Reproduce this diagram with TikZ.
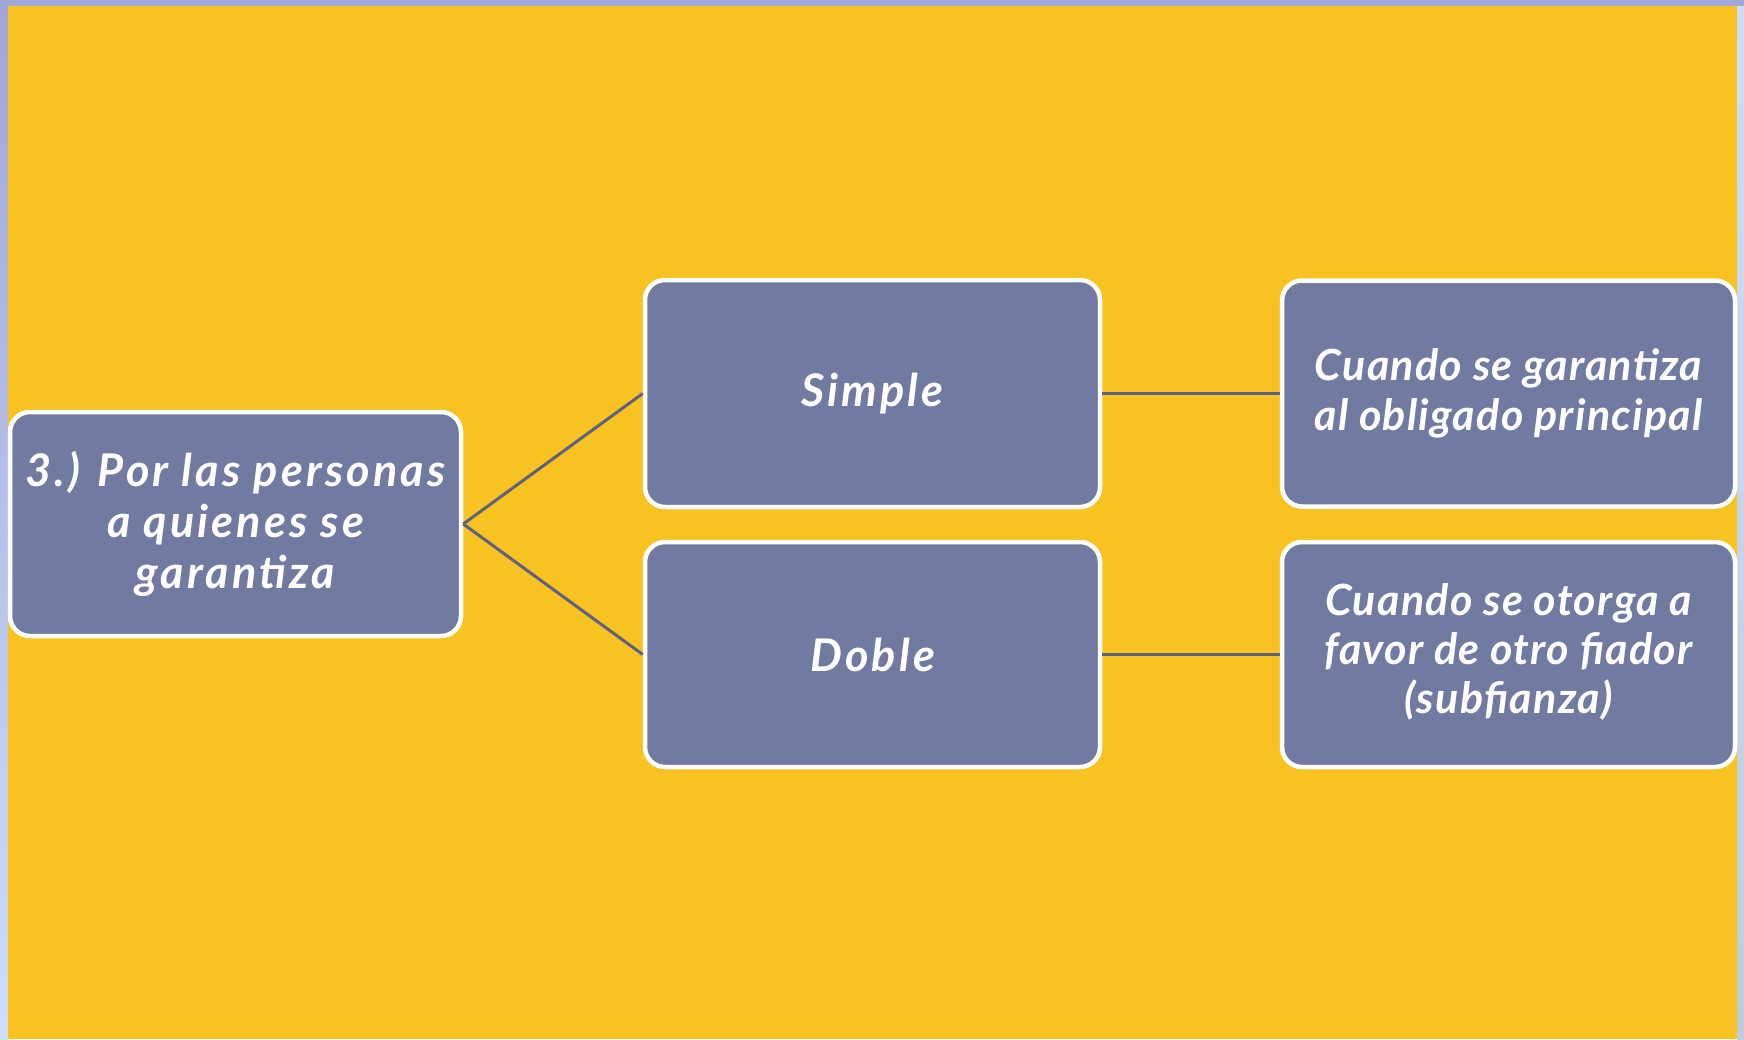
\documentclass[tikz,border=0pt]{standalone}
\usepackage{fontspec}
\setmainfont{Lato}
\newfontfamily\boldbox{Lato}[LetterSpace=7]
\newfontfamily\rightbox{Lato}[LetterSpace=3]
\definecolor{bgyellow}{RGB}{248,194,32}
\definecolor{boxfill}{RGB}{113,123,161}
\definecolor{connc}{RGB}{95,97,128}
\definecolor{stripA}{RGB}{160,166,216}
\definecolor{stripB}{RGB}{208,220,250}
\definecolor{stripC}{RGB}{192,204,218}
\begin{document}
\begin{tikzpicture}[x=1pt,y=-1pt,
  box/.style={rounded corners=20pt, fill=boxfill, draw=white, line width=4.5pt,
    text=white, align=center, inner sep=0pt},
  conn/.style={draw=connc, line width=3pt},
  bigtxt/.style={font=\boldbox\fontsize{45}{51}\selectfont\bfseries\itshape},
  smalltxt/.style={font=\rightbox\fontsize{43}{50}\selectfont\bfseries\itshape}]
\useasboundingbox (0,0) rectangle (1744,1039);
\shade[top color=stripA, bottom color=stripB] (0,0) rectangle (8,1039);
\fill[stripA] (0,0) rectangle (1744,6);
\shade[top color=stripB, bottom color=stripC] (1737,6) rectangle (1744,1039);
\fill[bgyellow] (8,6) rectangle (1737,1039);

\node[box, bigtxt, minimum width=451pt, minimum height=224pt] (root) at (235.5,524)
  {3.) Por las personas\\a quienes se\\garantiza};
\node[box, bigtxt, minimum width=455pt, minimum height=227pt] (simple) at (872.5,393.5) {Simple};
\node[box, bigtxt, minimum width=455pt, minimum height=225pt] (doble) at (872.5,654.5) {Doble};
\node[box, smalltxt, minimum width=453pt, minimum height=226pt] (r1) at (1508.5,393.5)
  {Cuando se garantiza\\al obligado principal};
\node[box, smalltxt, minimum width=453pt, minimum height=225pt] (r2) at (1508.5,654.5)
  {\raisebox{-4pt}{\begin{tabular}{@{}c@{}}Cuando se otorga a\\[-1pt]favor de otro fiador\\[-1pt](subfianza)\end{tabular}}};

\draw[conn] (root.east) -- (simple.west);
\draw[conn] (root.east) -- (doble.west);
\draw[conn] (simple.east) -- (r1.west);
\draw[conn] (doble.east) -- (r2.west);
\end{tikzpicture}
\end{document}
